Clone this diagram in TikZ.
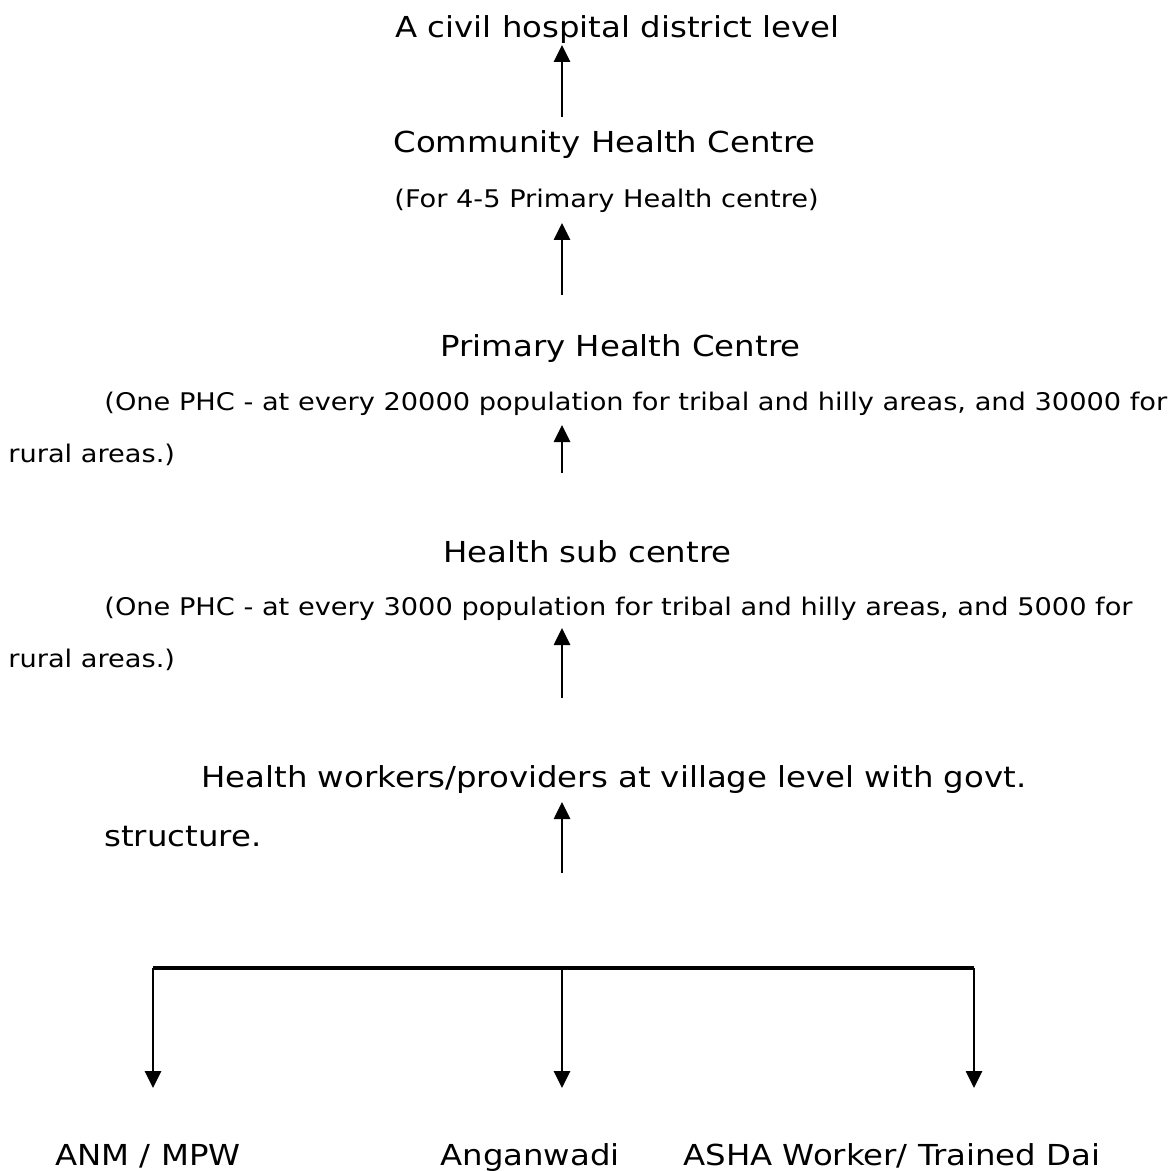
\documentclass[tikz,border=0pt]{standalone}
\usepackage{fontspec}
\setmainfont{DejaVu Sans}[FakeStretch=1.12]
\usetikzlibrary{arrows.meta}

\begin{document}
\begin{tikzpicture}[x=0.5pt, y=-0.5pt,
    level/.style={anchor=base west, inner sep=0pt, font=\fontsize{14.45}{17}\selectfont},
    note/.style={anchor=base west, inner sep=0pt, font=\fontsize{12.15}{14}\selectfont},
    link/.style={-{Triangle[length=8.5pt, width=8pt]}, line width=1.35pt}]

    \useasboundingbox (0,0) rectangle (1167,1171);

    %% Levels of the health care system
    % District level
    \node[level] (civil) at (395,37.5) {A civil hospital district level};

    % Community health centre
    \node[level] (chc) at (393,153) {Community Health Centre};
    \node[note] (chcnote) at (394,207.5) {(For 4-5 Primary Health centre)};

    % Primary health centre
    \node[level] (phc) at (440,357) {Primary Health Centre};
    \node[note] (phcnote) at (104,410) {(One PHC - at every 20000 population for tribal and hilly areas, and 30000 for};
    \node[note] (phcwrap) at (8,462) {rural areas.)};

    % Health sub centre
    \node[level] (hsc) at (443,562) {Health sub centre};
    \node[note] (hscnote) at (104,615) {(One PHC - at every 3000 population for tribal and hilly areas, and 5000 for};
    \node[note] (hscwrap) at (8,667) {rural areas.)};

    % Village level
    \node[level] (village) at (201,787) {Health workers/providers at village level with govt.};
    \node[level] (villagewrap) at (104,846) {structure.};

    % Upward arrows
    \coordinate (civiltip) at (562,45);   \coordinate (chctail) at (562,117);
    \coordinate (chctip) at (562,223);    \coordinate (phctail) at (562,295);
    \coordinate (phctip) at (562,425);    \coordinate (hsctail) at (562,473);
    \coordinate (hsctip) at (562,628);    \coordinate (villtail) at (562,698);
    \coordinate (villtip) at (562,802);   \coordinate (workerstail) at (562,873);
    \draw[link] (chctail) -- (civiltip);
    \draw[link] (phctail) -- (chctip);
    \draw[link] (hsctail) -- (phctip);
    \draw[link] (villtail) -- (hsctip);
    \draw[link] (workerstail) -- (villtip);

    %% Workers at village level
    \coordinate (barL) at (153,968);
    \coordinate (barM) at (562,968);
    \coordinate (barR) at (974,968);
    \draw[line width=1.6pt] (barL) -- (barR);

    \node[level] (anm) at (55,1165) {ANM / MPW};
    \node[level] (anganwadi) at (440,1165) {Anganwadi};
    \node[level] (asha) at (683,1165) {ASHA Worker/ Trained Dai};

    \coordinate (anmtip) at (153,1088);
    \coordinate (angtip) at (562,1088);
    \coordinate (ashatip) at (974,1088);
    \draw[link] (barL) -- (anmtip);
    \draw[link] (barM) -- (angtip);
    \draw[link] (barR) -- (ashatip);

\end{tikzpicture}
\end{document}
